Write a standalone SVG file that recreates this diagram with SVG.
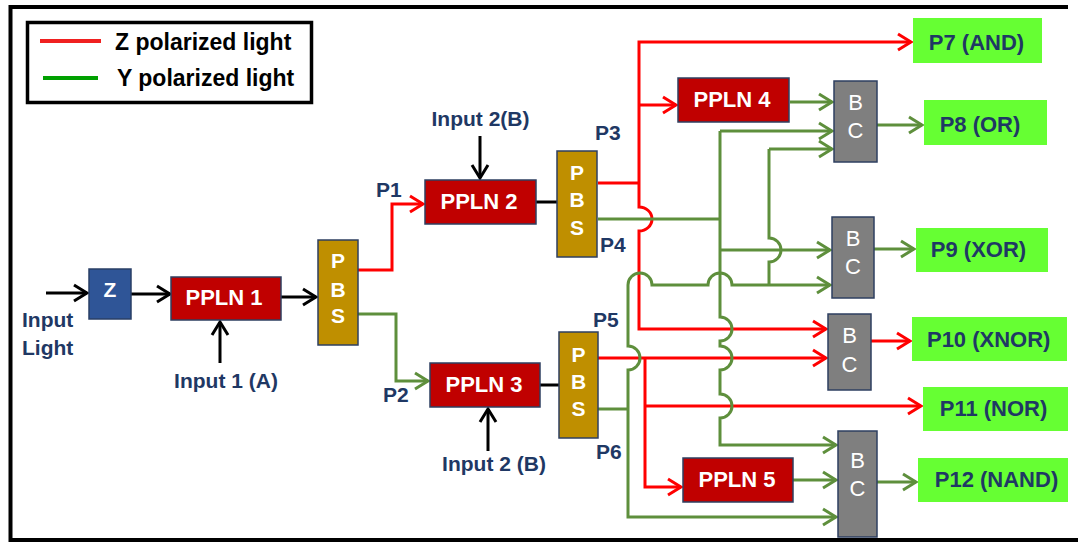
<svg xmlns="http://www.w3.org/2000/svg" width="1078" height="543" viewBox="0 0 1078 543">
<style>
text{font-family:"Liberation Sans",Arial,sans-serif;font-weight:bold}
.lbl{fill:#1F3864;font-size:21px}
.out{fill:#1F3864;font-size:22px;text-anchor:middle}
.wt{fill:#fff;font-size:21px;text-anchor:middle}
.pt{fill:#fff;font-size:22px;text-anchor:middle}
.bc{fill:#fff;font-size:22px;font-weight:normal;text-anchor:middle}
.ppln{fill:#C00000;stroke:#2E3F60;stroke-width:1.5}
.pbs{fill:#BF8F00;stroke:#2E3F60;stroke-width:1.5}
.bcb{fill:#7F7F7F;stroke:#2E3F60;stroke-width:1.5}
.ob{fill:#66FF33}
.k{fill:none;stroke:#000;stroke-width:3}
.r{fill:none;stroke:#FF0000;stroke-width:3}
.g{fill:none;stroke:#5E8F3C;stroke-width:3}
</style>
<defs>
<marker id="ak" viewBox="-16 -10 18 20" refX="0" refY="0" markerWidth="18" markerHeight="20" markerUnits="userSpaceOnUse" orient="auto"><path d="M-13,-8 L0,0 L-13,8" fill="none" stroke="#000" stroke-width="3"/></marker>
<marker id="ar" viewBox="-16 -10 18 20" refX="0" refY="0" markerWidth="18" markerHeight="20" markerUnits="userSpaceOnUse" orient="auto"><path d="M-13,-8 L0,0 L-13,8" fill="none" stroke="#FF0000" stroke-width="3"/></marker>
<marker id="ag" viewBox="-16 -10 18 20" refX="0" refY="0" markerWidth="18" markerHeight="20" markerUnits="userSpaceOnUse" orient="auto"><path d="M-13,-8 L0,0 L-13,8" fill="none" stroke="#5E8F3C" stroke-width="3"/></marker>
</defs>
<rect width="1078" height="543" fill="#fff"/>
<path d="M1068,7 H10.5 V540 H1078" fill="none" stroke="#000" stroke-width="4"/>

<g id="legend">
<rect x="27.5" y="22.5" width="284" height="80" fill="#fff" stroke="#000" stroke-width="3.5"/>
<line x1="40" y1="41" x2="101" y2="41" stroke="#F02020" stroke-width="4"/>
<line x1="43" y1="78" x2="98" y2="78" stroke="#00A000" stroke-width="4"/>
<text x="115" y="50" style="font-size:23px;fill:#000">Z polarized light</text>
<text x="117" y="86" style="font-size:23px;fill:#000">Y polarized light</text>
</g>

<g id="connectors">
<path class="k" d="M46,293 H87" marker-end="url(#ak)"/>
<path class="k" d="M131,294 H170" marker-end="url(#ak)"/>
<path class="k" d="M281,297 H316" marker-end="url(#ak)"/>
<path class="k" d="M220,363 V322" marker-end="url(#ak)"/>
<path class="k" d="M536,202 H557"/>
<path class="k" d="M480,136 V178" marker-end="url(#ak)"/>
<path class="k" d="M540,385 H559"/>
<path class="k" d="M488,451 V409" marker-end="url(#ak)"/>

<path class="r" d="M358,270 H392 V204 H423" marker-end="url(#ar)"/>
<path class="r" d="M598,183 H639"/>
<path class="r" d="M639,183 V42 H911" marker-end="url(#ar)"/>
<path class="r" d="M639,105 H676" marker-end="url(#ar)"/>
<path class="r" d="M639,183 V207 A13,12 0 0 1 639,231 V329 H826" marker-end="url(#ar)"/>
<path class="r" d="M598,358 H826" marker-end="url(#ar)"/>
<path class="r" d="M645,358 V487 H681" marker-end="url(#ar)"/>
<path class="r" d="M645,406 H921" marker-end="url(#ar)"/>
<path class="r" d="M871,341 H910" marker-end="url(#ar)"/>

<path class="g" d="M358,314 H396 V381 H428" marker-end="url(#ag)"/>
<path class="g" d="M790,102 H832" marker-end="url(#ag)"/>
<path class="g" d="M598,219 H720"/>
<path class="g" d="M720,131 H832" marker-end="url(#ag)"/>
<path class="g" d="M720,131 V317 A12,12 0 0 1 720,341 V346 A12,12 0 0 1 720,370 V394 A12,12 0 0 1 720,418 V445 H836" marker-end="url(#ag)"/>
<path class="g" d="M720,250 H830" marker-end="url(#ag)"/>
<path class="g" d="M598,409 H628"/>
<path class="g" d="M628,409 V370 A12,12 0 0 0 628,346 V285 A12,12 0 0 1 652,285 H708 A12,12 0 0 1 732,285 H830" marker-end="url(#ag)"/>
<path class="g" d="M628,409 V517 H836" marker-end="url(#ag)"/>
<path class="g" d="M769,149 H832" marker-end="url(#ag)"/>
<path class="g" d="M769,149 V238 A12,12 0 0 1 769,262 V285"/>
<path class="g" d="M793,480 H836" marker-end="url(#ag)"/>
<path class="g" d="M877,125 H922" marker-end="url(#ag)"/>
<path class="g" d="M874,249 H914" marker-end="url(#ag)"/>
<path class="g" d="M877,482 H916" marker-end="url(#ag)"/>
</g>

<g id="input-light"><text class="lbl" x="22" y="327">Input</text><text class="lbl" x="22" y="355">Light</text></g>
<g id="input1"><text class="lbl" x="226" y="388" text-anchor="middle">Input 1 (A)</text></g>
<g id="input2a"><text class="lbl" x="480.5" y="126" text-anchor="middle">Input 2(B)</text></g>
<g id="input2b"><text class="lbl" x="494" y="471" text-anchor="middle">Input 2 (B)</text></g>
<g id="labels">
<text class="lbl" x="376" y="197">P1</text>
<text class="lbl" x="383" y="402">P2</text>
<text class="lbl" x="595" y="140">P3</text>
<text class="lbl" x="600" y="252">P4</text>
<text class="lbl" x="593" y="327">P5</text>
<text class="lbl" x="596" y="459">P6</text>
</g>

<g id="z"><rect x="89" y="269" width="42" height="50" fill="#2F5597" stroke="#2A3F66" stroke-width="1.5"/><text class="wt" x="110" y="297">Z</text></g>
<g id="ppln1"><rect class="ppln" x="171" y="277" width="110" height="43"/><text class="pt" x="224" y="305">PPLN 1</text></g>
<g id="pbs1"><rect class="pbs" x="318" y="240" width="40" height="105"/><text class="wt" x="338" y="268">P</text><text class="wt" x="338" y="297">B</text><text class="wt" x="338" y="323">S</text></g>
<g id="ppln2"><rect class="ppln" x="425" y="180" width="111" height="44"/><text class="pt" x="479" y="209">PPLN 2</text></g>
<g id="pbs2"><rect class="pbs" x="557" y="151" width="40" height="106"/><text class="wt" x="577" y="180">P</text><text class="wt" x="577" y="207">B</text><text class="wt" x="577" y="235">S</text></g>
<g id="ppln3"><rect class="ppln" x="430" y="363" width="110" height="44"/><text class="pt" x="484" y="392">PPLN 3</text></g>
<g id="pbs3"><rect class="pbs" x="559" y="332" width="39" height="106"/><text class="wt" x="578.5" y="362">P</text><text class="wt" x="578.5" y="389">B</text><text class="wt" x="578.5" y="416">S</text></g>
<g id="ppln4"><rect class="ppln" x="678" y="78" width="111" height="44"/><text class="pt" x="732" y="107">PPLN 4</text></g>
<g id="ppln5"><rect class="ppln" x="683" y="458" width="110" height="44"/><text class="pt" x="737" y="487">PPLN 5</text></g>
<g id="bc1"><rect class="bcb" x="834" y="81" width="43" height="81"/><text class="bc" x="855.5" y="110">B</text><text class="bc" x="855.5" y="138">C</text></g>
<g id="bc2"><rect class="bcb" x="832" y="217" width="42" height="81"/><text class="bc" x="853" y="246">B</text><text class="bc" x="853" y="274">C</text></g>
<g id="bc3"><rect class="bcb" x="828" y="314" width="43" height="76"/><text class="bc" x="849.5" y="343">B</text><text class="bc" x="849.5" y="372">C</text></g>
<g id="bc4"><rect class="bcb" x="838" y="431" width="39" height="106"/><text class="bc" x="857.5" y="468">B</text><text class="bc" x="857.5" y="496">C</text></g>
<g id="p7"><rect class="ob" x="913" y="18" width="129" height="45"/><text class="out" x="976.5" y="50">P7 (AND)</text></g>
<g id="p8"><rect class="ob" x="924" y="100" width="123" height="45"/><text class="out" x="980" y="132">P8 (OR)</text></g>
<g id="p9"><rect class="ob" x="916" y="228" width="132" height="44"/><text class="out" x="978.5" y="257">P9 (XOR)</text></g>
<g id="p10"><rect class="ob" x="912" y="317" width="155" height="44"/><text class="out" x="988.7" y="347">P10 (XNOR)</text></g>
<g id="p11"><rect class="ob" x="923" y="387" width="145" height="44"/><text class="out" x="993.5" y="416">P11 (NOR)</text></g>
<g id="p12"><rect class="ob" x="918" y="458" width="150" height="44"/><text class="out" x="996.5" y="487">P12 (NAND)</text></g>
</svg>
